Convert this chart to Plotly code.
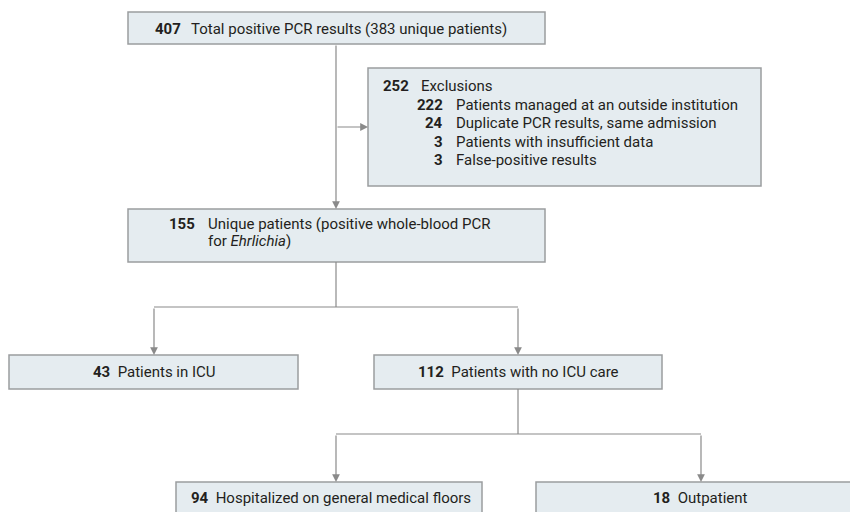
import plotly.graph_objects as go

# ---- data ----
total_results = 407
total_label = "Total positive PCR results (383 unique patients)"
excl_total = 252
excl_total_label = "Exclusions"
excl_counts = [222, 24, 3, 3]
excl_labels = ["Patients managed at an outside institution",
               "Duplicate PCR results, same admission",
               "Patients with insufficient data",
               "False-positive results"]
unique_count = 155
unique_lines = ["Unique patients (positive whole-blood PCR", "for <i>Ehrlichia</i>)"]
split1_counts = [43, 112]
split1_labels = ["Patients in ICU", "Patients with no ICU care"]
split2_counts = [94, 18]
split2_labels = ["Hospitalized on general medical floors", "Outpatient"]

# ---- styling / layout geometry ----
FONT = "Roboto"
FS = 15
TXT = "#231f20"
FILL = "#e5ecf0"
EDGE = "#9b9d9f"
LINE = "#8a8a8a"

fig = go.Figure()

def box(x0, x1, y0, y1):
    fig.add_shape(type="rect", x0=x0, x1=x1, y0=y0, y1=y1, xref="x", yref="y",
                  fillcolor=FILL, line=dict(color=EDGE, width=1.5), layer="below")

def line(x0, y0, x1, y1):
    fig.add_shape(type="line", x0=x0, y0=y0, x1=x1, y1=y1, xref="x", yref="y",
                  line=dict(color=LINE, width=1.2))

def arrow(x0, y0, x1, y1):
    fig.add_annotation(x=x1, y=y1, ax=x0, ay=y0, xref="x", yref="y", axref="x", ayref="y",
                       text="", showarrow=True, arrowhead=2, arrowsize=1.3, arrowwidth=1.2,
                       arrowcolor=LINE, standoff=0, startstandoff=0)

def txt(x, y, s, anchor="left", bold=False):
    fig.add_annotation(x=x, y=y, xref="x", yref="y", text=(f"<b>{s}</b>" if bold else s),
                       showarrow=False, xanchor=anchor, yanchor="middle",
                       font=dict(family=FONT, size=FS, color=TXT))

# boxes
box(128, 545, 12, 44)
box(368, 761, 68, 186)
box(128, 545, 209, 262)
box(9, 298, 355, 389)
box(374, 662, 355, 389)
box(176, 482, 482, 540)
box(536, 880, 482, 540)

# connectors
arrow(336, 44, 336, 209)
arrow(336, 127, 368, 127)
line(336, 262, 336, 307)
line(154, 307, 518, 307)
arrow(154, 307, 154, 355)
arrow(518, 307, 518, 355)
line(518, 389, 518, 434)
line(336, 434, 701, 434)
arrow(336, 434, 336, 482)
arrow(701, 434, 701, 482)

# box 1
txt(183, 29, total_results, "right", True)
txt(189, 29, total_label)

# box 2
rows_y = [86, 104.5, 123, 141.5, 160]
txt(411, rows_y[0], excl_total, "right", True)
txt(419, rows_y[0], excl_total_label)
for yy, c, l in zip(rows_y[1:], excl_counts, excl_labels):
    txt(445, yy, c, "right", True)
    txt(454, yy, l)

# box 3
txt(197, 224, unique_count, "right", True)
txt(206, 224, unique_lines[0])
txt(206, 241, unique_lines[1])

# split rows
for cx, c, l in zip([154, 518], split1_counts, split1_labels):
    txt(cx, 372, f"<b>{c}</b>\u00a0\u00a0{l}", "center")
for cx, c, l in zip([331, 700], split2_counts, split2_labels):
    txt(cx, 498, f"<b>{c}</b>\u00a0\u00a0{l}", "center")

fig.update_layout(
    width=850, height=512, margin=dict(l=0, r=0, t=0, b=0),
    paper_bgcolor="white", plot_bgcolor="white", showlegend=False,
    xaxis=dict(range=[0, 850], visible=False, fixedrange=True),
    yaxis=dict(range=[512, 0], visible=False, fixedrange=True),
)
fig.write_html("out.html", config={"displayModeBar": False, "staticPlot": True},
               post_script="document.body.style.margin='0';document.body.style.overflow='hidden';")
